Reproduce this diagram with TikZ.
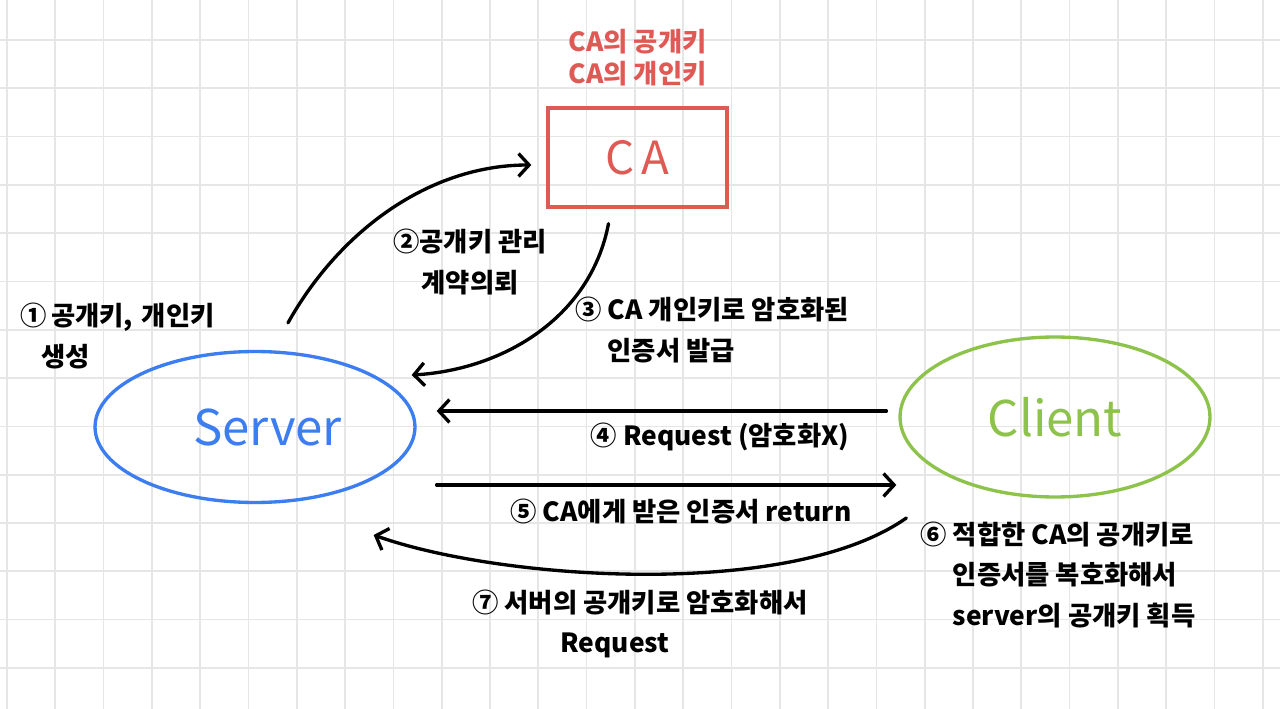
\documentclass[tikz,border=0pt]{standalone}
\usepackage{fontspec}
\setmainfont{Noto Sans CJK KR}
\usetikzlibrary{arrows.meta,positioning,shapes.geometric}
\definecolor{caRed}{HTML}{E05A55}
\definecolor{srvBlue}{HTML}{3C7DF0}
\definecolor{cliGreen}{HTML}{8DC34A}
\definecolor{gridGray}{HTML}{E6E6E6}

\begin{document}
\begin{tikzpicture}[x=0.02cm, y=-0.02cm, font=\bfseries\fontsize{15}{23}\selectfont,
  >={Straight Barb[length=6pt,width=13pt]},
  flow/.style={->, line width=1.9pt, line cap=round},
  note/.style={inner sep=0pt, align=center}]
  % squared paper
  \useasboundingbox (0,0) rectangle (1280,709);
  \fill[white] (0,0) rectangle (1280,709);
  \foreach \i in {0,...,26} \draw[gridGray, line width=1pt] ({7+\i*48.3},0) -- ({7+\i*48.3},709);
  \foreach \j in {1,...,14} \draw[gridGray, line width=1pt] (0,{-8.3+\j*48.3}) -- (1280,{-8.3+\j*48.3});

  % parties
  \node[draw=caRed, line width=1.9pt, minimum width=3.58cm, minimum height=1.98cm, text=caRed, font=\fontsize{26}{30}\selectfont] (ca) at (637.5,157.5) {C\,A};
  \node[note, text=caRed, above=0.4cm of ca, font=\bfseries\fontsize{15}{18}\selectfont] (cakeys) {CA의 공개키\\CA의 개인키};
  \node[ellipse, draw=srvBlue, line width=1.9pt, minimum width=6.4cm, minimum height=3.02cm, text=srvBlue, font=\fontsize{28}{32}\selectfont] (server) at (255,427) {\hspace*{0.5cm}Server};
  \node[ellipse, draw=cliGreen, line width=1.9pt, minimum width=6.2cm, minimum height=3.2cm, text=cliGreen, font=\fontsize{28}{32}\selectfont] (client) at (1055,417) {Client};

  % steps
  \node[note, align=left, anchor=west] (gen) at (20,336) {①\,공개키,\,\,개인키\\\hspace*{0.8em}생성};
  \node[note] (ask) at (470,262) {②공개키 관리\\계약의뢰};
  \node[note, align=left, anchor=west] (issue) at (575,330) {③ CA 개인키로 암호화된\\\phantom{③ }인증서 발급};
  \node[note] (plain) at (720,437) {④ Request (암호화X)};
  \node[note] (ret) at (681,512) {⑤ CA에게 받은 인증서 return};
  \node[note, align=left, anchor=west] (verify) at (920,575) {⑥ 적합한 CA의 공개키로\\\phantom{⑥ }인증서를 복호화해서\\\phantom{⑥ }server의 공개키 획득};
  \node[note] (enc) at (640,624) {⑦ 서버의 공개키로 암호화해서\\Request\hspace*{1cm}};

  \draw[flow] ([xshift=0.66cm,yshift=0.54cm]server.north) .. controls (340,230) and (430,165) .. ([xshift=-0.3cm,yshift=-0.15cm]ca.west);
  \draw[flow] ([xshift=-0.58cm,yshift=-0.3cm]ca.south) .. controls (590,320) and (500,370) .. ([xshift=-0.1cm,yshift=1.04cm]server.east);
  \draw[flow] ([xshift=-0.24cm,yshift=0.12cm]client.west) coordinate (r4) -- ([xshift=0.4cm]server.east |- r4);
  \draw[flow] ([xshift=0.4cm,yshift=-1.16cm]server.east) coordinate (r5) -- ([xshift=-0.04cm]client.west |- r5);
  \draw[flow] ([xshift=0.16cm,yshift=-2.02cm]client.west) .. controls (790,600) and (500,580) .. ([xshift=-0.86cm,yshift=-2.16cm]server.east);
\end{tikzpicture}
\end{document}
